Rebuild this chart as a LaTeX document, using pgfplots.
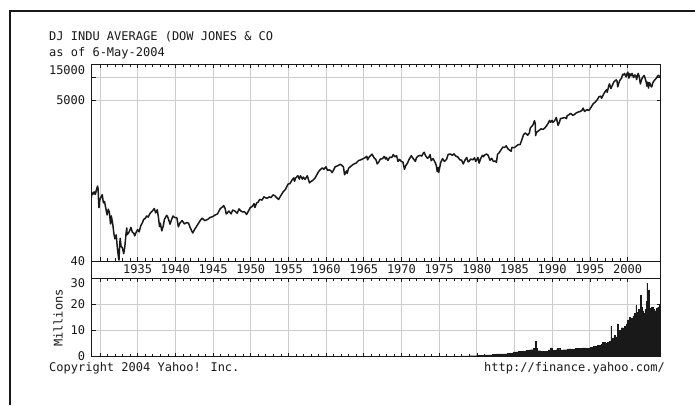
\documentclass[border=0pt]{standalone}
\usepackage{pgfplots}
\pgfplotsset{compat=1.18}
\usepackage{fontspec}
\setmainfont{DejaVu Sans Mono}
\definecolor{gridc}{RGB}{205,205,205}
\definecolor{ink}{RGB}{25,25,25}
\begin{document}
\begin{tikzpicture}[font=\fontsize{12}{14}\selectfont]
\path[use as bounding box] (0,0) rectangle (695pt,405pt);
\draw[ink, line width=1.2pt] (10pt,0pt) -- (10pt,394pt) -- (695pt,394pt);
\node[anchor=west, inner sep=0, text=ink] at (49pt,368.3pt) {DJ INDU AVERAGE (DOW JONES \& CO};
\node[anchor=west, inner sep=0, text=ink] at (49pt,351.7pt) {as of 6-May-2004};
\node[anchor=west, inner sep=0, text=ink] at (49pt,36.5pt) {Copyright 2004 Yahoo! Inc.};
\node[anchor=east, inner sep=0, text=ink] at (665pt,36.5pt) {http://finance.yahoo.com/};
\node[rotate=90, inner sep=0, text=ink] at (58pt,87pt) {Millions};
\pgfplotsset{common/.style={
  scale only axis, width=569pt,
  xmin=1928.9, xmax=2004.4,
  xtick={1930,1935,...,2000}, minor x tick num=4,
  tick align=inside, major tick length=4pt, minor tick length=3pt,
  xmajorgrids, ymajorgrids,
  grid style={gridc, line width=0.9pt},
  axis line style={ink, line width=0.9pt},
  tick style={ink, line width=0.6pt},
  /pgf/number format/assume math mode=true,
  yticklabel style={xshift=-3pt, text=ink},
  xticklabel style={text=ink},
}}
\begin{axis}[common, at={(91.7pt,144pt)}, anchor=south west, height=197pt,
  ymode=log, ymin=40, ymax=15000,
  ytick={40,5000,10000}, yticklabels={40,5000,{}},
  extra y ticks={15000}, extra y tick labels={15000},
  extra y tick style={grid=none, yticklabel style={yshift=-6pt}},
  xticklabels={,1935,1940,1945,1950,1955,1960,1965,1970,1975,1980,1985,1990,1995,2000},
  xticklabel style={anchor=center, yshift=-8.5pt},
]
\addplot[ink, line width=1.5pt, line join=round] coordinates {
(1928.80,255)(1928.90,290)(1929.00,300)(1929.10,317)(1929.20,300)(1929.30,320)(1929.40,298)(1929.50,335)(1929.60,360)(1929.68,381)
(1929.75,350)(1929.82,230)(1929.87,199)(1929.95,248)(1930.10,270)(1930.30,294)(1930.45,230)(1930.60,240)(1930.75,200)(1930.95,160)
(1931.10,190)(1931.25,172)(1931.40,122)(1931.50,155)(1931.70,120)(1931.85,90)(1931.98,78)(1932.15,88)(1932.30,60)(1932.45,45)
(1932.52,41.2)(1932.60,62)(1932.68,79)(1932.80,62)(1932.95,60)(1933.15,50)(1933.30,62)(1933.45,90)(1933.55,108)(1933.60,88)
(1933.75,92)(1933.95,100)(1934.10,110)(1934.30,95)(1934.50,92)(1934.60,85)(1934.80,95)(1935.00,103)(1935.20,96)(1935.40,115)
(1935.60,125)(1935.80,140)(1936.00,144)(1936.20,155)(1936.40,150)(1936.60,165)(1936.80,175)(1936.95,180)(1937.20,194)(1937.40,170)
(1937.60,187)(1937.75,150)(1937.90,113)(1938.00,125)(1938.20,99)(1938.40,115)(1938.55,140)(1938.85,158)(1939.00,150)(1939.30,121)
(1939.50,140)(1939.70,155)(1939.90,148)(1940.20,147)(1940.40,112)(1940.60,125)(1940.90,135)(1941.20,122)(1941.50,127)(1941.75,125)
(1941.95,110)(1942.30,93)(1942.60,105)(1942.95,119)(1943.30,135)(1943.55,145)(1943.90,135)(1944.30,140)(1944.60,148)(1944.95,152)
(1945.30,160)(1945.60,165)(1945.95,193)(1946.30,205)(1946.40,212)(1946.60,195)(1946.75,165)(1946.90,170)(1947.10,180)(1947.40,165)
(1947.60,185)(1947.90,180)(1948.20,168)(1948.45,192)(1948.70,180)(1948.90,175)(1949.20,175)(1949.45,162)(1949.70,180)(1949.95,200)
(1950.20,206)(1950.45,225)(1950.55,200)(1950.80,230)(1950.98,235)(1951.20,255)(1951.50,250)(1951.75,276)(1951.95,268)(1952.20,265)
(1952.45,275)(1952.70,270)(1952.95,292)(1953.20,285)(1953.50,265)(1953.70,255)(1953.95,282)(1954.30,320)(1954.60,345)(1954.95,404)
(1955.20,410)(1955.50,460)(1955.72,487)(1955.80,440)(1955.98,488)(1956.25,521)(1956.45,470)(1956.60,520)(1956.85,470)(1956.98,500)
(1957.20,465)(1957.50,520)(1957.80,420)(1957.98,436)(1958.20,450)(1958.50,480)(1958.75,530)(1958.98,584)(1959.20,620)(1959.50,660)
(1959.70,630)(1959.98,680)(1960.20,610)(1960.40,620)(1960.60,610)(1960.80,570)(1960.98,615)(1961.20,680)(1961.50,700)(1961.90,735)
(1962.10,710)(1962.30,680)(1962.45,536)(1962.70,600)(1962.80,560)(1962.98,650)(1963.20,680)(1963.50,720)(1963.80,750)(1963.98,760)
(1964.30,820)(1964.60,840)(1964.98,875)(1965.20,900)(1965.40,935)(1965.50,840)(1965.75,920)(1965.98,969)(1966.10,995)(1966.40,880)
(1966.60,850)(1966.78,744)(1966.98,785)(1967.20,860)(1967.50,870)(1967.70,930)(1967.90,860)(1967.98,905)(1968.20,825)(1968.45,910)
(1968.70,900)(1968.92,985)(1969.10,920)(1969.35,950)(1969.55,800)(1969.75,850)(1969.98,800)(1970.20,785)(1970.40,631)(1970.55,700)
(1970.80,760)(1970.98,838)(1971.30,950)(1971.60,860)(1971.85,800)(1971.98,890)(1972.20,940)(1972.45,960)(1972.70,940)(1972.92,1036)
(1973.02,1051)(1973.20,950)(1973.45,880)(1973.60,900)(1973.80,980)(1973.95,820)(1974.20,870)(1974.40,800)(1974.60,720)(1974.75,590)
(1974.85,670)(1974.95,577)(1975.20,770)(1975.45,870)(1975.70,800)(1975.98,852)(1976.20,990)(1976.50,1000)(1976.75,960)(1976.98,1005)
(1977.20,940)(1977.50,910)(1977.75,840)(1977.98,831)(1978.20,742)(1978.45,840)(1978.65,900)(1978.85,790)(1978.98,805)(1979.20,860)
(1979.45,840)(1979.70,890)(1979.85,800)(1979.98,838)(1980.15,900)(1980.30,759)(1980.50,870)(1980.75,960)(1980.90,920)(1980.98,963)
(1981.30,1000)(1981.50,960)(1981.75,830)(1981.98,875)(1982.20,800)(1982.45,810)(1982.60,777)(1982.75,990)(1982.98,1046)(1983.20,1130)
(1983.45,1230)(1983.70,1220)(1983.90,1280)(1984.10,1180)(1984.35,1120)(1984.55,1087)(1984.65,1220)(1984.98,1211)(1985.20,1260)(1985.50,1330)
(1985.75,1330)(1985.98,1546)(1986.20,1800)(1986.45,1880)(1986.65,1800)(1986.75,1760)(1986.98,1895)(1987.10,2200)(1987.30,2300)(1987.45,2400)
(1987.65,2722)(1987.75,2500)(1987.80,1738)(1987.90,1900)(1987.98,1938)(1988.30,2050)(1988.50,2130)(1988.80,2100)(1988.98,2168)(1989.20,2300)
(1989.45,2500)(1989.65,2750)(1989.80,2600)(1989.98,2753)(1990.10,2600)(1990.30,2700)(1990.55,2999)(1990.78,2365)(1990.98,2633)(1991.10,2900)
(1991.40,2950)(1991.70,3000)(1991.90,2900)(1991.98,3168)(1992.20,3250)(1992.45,3400)(1992.75,3200)(1992.98,3301)(1993.20,3450)(1993.50,3550)
(1993.75,3600)(1993.98,3754)(1994.10,3978)(1994.30,3600)(1994.60,3800)(1994.85,3700)(1994.98,3834)(1995.20,4150)(1995.45,4550)(1995.70,4750)
(1995.98,5117)(1996.20,5600)(1996.45,5700)(1996.55,5350)(1996.80,6000)(1996.98,6448)(1997.20,6900)(1997.30,6400)(1997.50,7700)(1997.60,8250)
(1997.80,7160)(1997.98,7908)(1998.20,8800)(1998.50,9300)(1998.60,9000)(1998.70,7540)(1998.85,8500)(1998.98,9181)(1999.20,9800)(1999.35,11000)
(1999.50,10800)(1999.60,11300)(1999.80,10200)(1999.98,11497)(2000.04,11722)(2000.18,9800)(2000.30,11200)(2000.45,10500)(2000.60,11300)(2000.80,10000)
(2000.98,10787)(2001.10,10500)(2001.20,9400)(2001.40,11300)(2001.55,10300)(2001.70,8235)(2001.85,9300)(2001.98,10021)(2002.20,10600)(2002.30,10000)
(2002.50,8500)(2002.55,7700)(2002.65,8700)(2002.78,7286)(2002.88,8600)(2002.98,8341)(2003.10,7700)(2003.20,7524)(2003.35,8500)(2003.50,9000)
(2003.65,9400)(2003.80,9700)(2003.98,10453)(2004.10,10700)(2004.25,10300)(2004.34,10400)
};
\end{axis}
\draw[ink, line width=0.9pt] (91.7pt,127pt) rectangle (660.7pt,144pt);
\begin{axis}[common, at={(91.7pt,48.5pt)}, anchor=south west, height=78.5pt,
  ymin=0, ymax=30,
  ytick={0,10,20}, yticklabels={0,10,20},
  extra y ticks={30}, extra y tick labels={30},
  extra y tick style={grid=none, yticklabel style={yshift=-5pt}},
  xticklabels={,,},
]
\addplot[draw=ink, fill=ink, const plot, line width=0.4pt] coordinates {
(1977.5,0.0)(1978.0,0.2)(1979.0,0.3)(1980.0,0.5)(1981.0,0.6)(1982.0,0.7)(1982.6,1.0)(1983.0,1.0)(1984.0,1.1)(1984.8,1.8)
(1985.5,2.0)(1986.0,2.1)(1986.5,2.4)(1987.0,2.6)(1987.5,3.0)(1987.78,5.8)(1987.85,3.0)(1988.0,2.2)(1988.5,2.0)(1989.0,2.1)
(1989.5,2.5)(1989.8,3.3)(1990.0,2.4)(1990.5,2.6)(1990.7,3.2)(1991.0,2.5)(1991.5,2.6)(1992.0,2.9)(1992.5,2.8)(1993.0,3.0)
(1993.5,3.1)(1994.0,3.3)(1994.5,3.2)(1995.0,3.4)(1995.5,3.8)(1996.0,4.3)(1996.5,4.6)(1996.7,5.5)(1997.0,5.0)(1997.3,5.5)
(1997.6,5.8)(1997.8,11.5)(1997.88,6.5)(1998.0,7.0)(1998.2,8.0)(1998.4,7.5)(1998.62,12.5)(1998.7,8.5)(1998.8,10.0)(1999.0,9.5)
(1999.2,11.0)(1999.4,10.5)(1999.6,11.5)(1999.8,12.5)(2000.0,14.0)(2000.2,15.0)(2000.3,13.0)(2000.5,14.5)(2000.7,15.5)(2000.9,16.5)
(2001.1,19.5)(2001.2,17.0)(2001.4,18.0)(2001.6,16.5)(2001.7,23.5)(2001.75,19.0)(2001.9,17.5)(2002.1,16.5)(2002.3,18.0)(2002.5,21.0)
(2002.55,28.0)(2002.6,22.0)(2002.7,20.0)(2002.8,25.5)(2002.85,18.5)(2003.0,17.5)(2003.2,19.0)(2003.4,18.0)(2003.6,17.5)(2003.8,18.5)
(2004.0,19.0)(2004.2,19.5)(2004.34,19.5)
} \closedcycle;
\end{axis}
\end{tikzpicture}
\end{document}
